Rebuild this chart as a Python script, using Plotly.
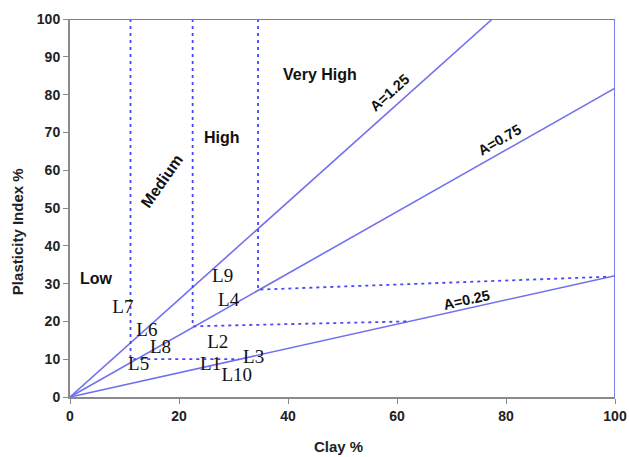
import plotly.graph_objects as go

# Activity boundary lines (end points)
activity_names = ["A=1.25", "A=0.75", "A=0.25"]
activity_x = [[0, 77.5], [0, 100], [0, 100]]
activity_y = [[0, 100], [0, 81.7], [0, 32.1]]

# Dashed zone boundaries
zone_x = [[11.1, 11.1, 31.0], [22.5, 22.5, 62.0], [34.5, 34.5, 98.5]]
zone_y = [[100, 10.0, 10.0], [100, 18.7, 20.0], [100, 28.4, 31.8]]

# Sample labels
sample_labels = ["L7", "L6", "L8", "L5", "L9", "L4", "L2", "L1", "L3", "L10"]
sample_x = [9.7, 14.1, 16.6, 12.6, 28.0, 29.1, 27.1, 25.8, 33.7, 30.6]
sample_y = [23.6, 17.5, 12.8, 8.3, 31.8, 25.2, 14.2, 8.4, 10.2, 5.6]

# Zone labels
zone_names = ["Very High", "High", "Medium", "Low"]
zone_lx = [45.8, 27.8, 16.8, 4.9]
zone_ly = [85.3, 68.6, 57.0, 31.3]
zone_angle = [0, 0, -55, 0]

# Activity labels
act_lx = [58.6, 78.8, 72.7]
act_ly = [80.5, 68.0, 25.7]
act_angle = [-42, -30, -12.5]

line_col = "rgb(112,112,240)"
dash_col = "rgb(70,70,250)"

fig = go.Figure()
for xs, ys in zip(activity_x, activity_y):
    fig.add_trace(go.Scatter(x=xs, y=ys, mode="lines",
                             line=dict(color=line_col, width=1.6), showlegend=False, hoverinfo="skip"))
for xs, ys in zip(zone_x, zone_y):
    fig.add_trace(go.Scatter(x=xs, y=ys, mode="lines",
                             line=dict(color=dash_col, width=1.8, dash="3px,4px"), showlegend=False, hoverinfo="skip"))
# frame top and right
fig.add_trace(go.Scatter(x=[0, 100, 100], y=[100, 100, 0], mode="lines",
                         line=dict(color=line_col, width=1.8), showlegend=False, hoverinfo="skip"))

fig.add_trace(go.Scatter(x=sample_x, y=sample_y, mode="text", text=sample_labels,
                         textfont=dict(family="Liberation Serif, Times New Roman, serif", size=19, color="#111"),
                         showlegend=False, hoverinfo="skip"))

for name, x, y, a in zip(zone_names, zone_lx, zone_ly, zone_angle):
    fig.add_annotation(x=x, y=y, text=name, showarrow=False, textangle=a,
                       font=dict(family="Liberation Sans, Arial", size=16, color="#111", weight="bold"))
for name, x, y, a in zip(activity_names, act_lx, act_ly, act_angle):
    fig.add_annotation(x=x, y=y, text=name, showarrow=False, textangle=a,
                       font=dict(family="Liberation Sans, Arial", size=14.5, color="#111", weight="bold"))

title_font = dict(family="Liberation Sans, Arial", size=15, color="#222", weight="bold")
fig.add_annotation(xref="paper", yref="paper", x=-0.097, y=0.4365, text="Plasticity Index %",
                   textangle=-90, showarrow=False, font=title_font, xanchor="center", yanchor="middle")
fig.add_annotation(xref="paper", yref="paper", x=0.493, y=-0.132, text="Clay %",
                   showarrow=False, font=title_font, xanchor="center", yanchor="middle")

axis_font = dict(family="Liberation Sans, Arial", size=14, color="#222", weight="bold")
fig.update_layout(
    width=629, height=457,
    margin=dict(l=70, r=14, t=19, b=60),
    paper_bgcolor="white", plot_bgcolor="white",
    xaxis=dict(range=[0, 100], dtick=20, tick0=0, showgrid=False, zeroline=False, automargin=False,
               showline=True, linecolor="#8a8a8a", linewidth=2, ticks="outside", ticklen=5,
               tickcolor="#8a8a8a", tickfont=axis_font),
    yaxis=dict(range=[0, 100], dtick=10, tick0=0, showgrid=False, zeroline=False, automargin=False,
               showline=True, linecolor="#8a8a8a", linewidth=2, ticks="outside", ticklen=5,
               tickcolor="#8a8a8a", tickfont=axis_font),
)
fig.write_html("out.html")
